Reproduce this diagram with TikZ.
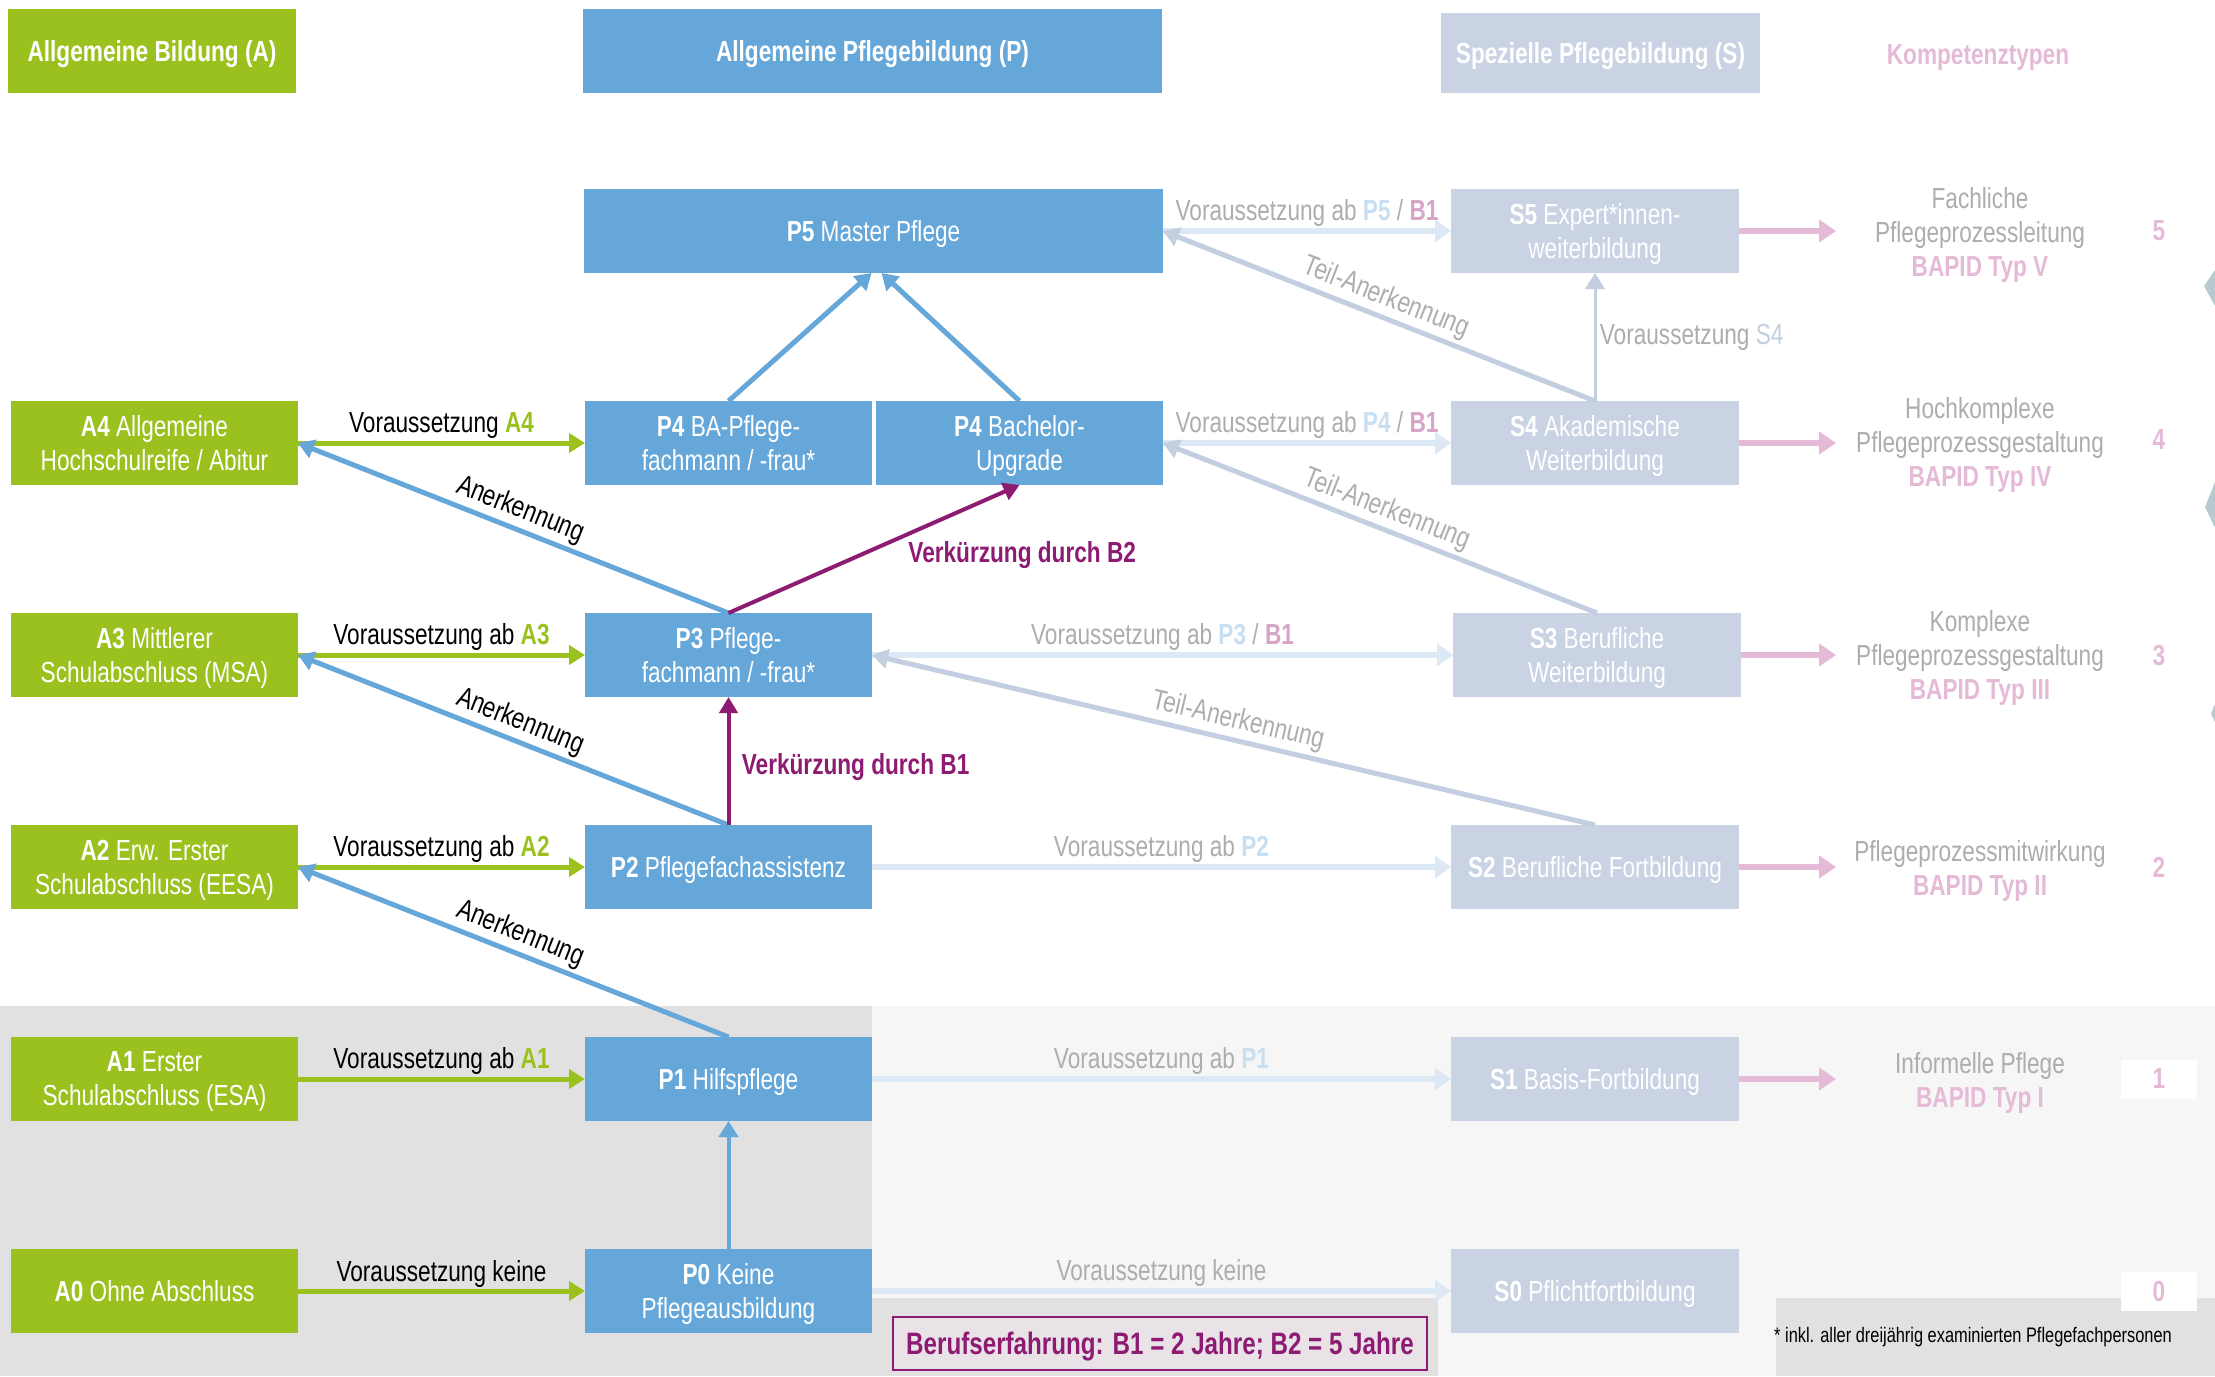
\documentclass[tikz,border=0pt]{standalone}
\usepackage{fontspec}
\setmainfont{Liberation Sans}[FakeStretch=0.78]
\usepackage{tikz}
\usetikzlibrary{arrows.meta}

\definecolor{agreen}{HTML}{9BC11F}
\definecolor{pblue}{HTML}{66A7DA}
\definecolor{sgrey}{HTML}{C9D3E3}
\definecolor{lblue}{HTML}{DCE9F5}
\definecolor{lbtext}{HTML}{C8DEF1}
\definecolor{tgrey}{HTML}{C3CEE1}
\definecolor{kpink}{HTML}{E5BAD7}
\definecolor{bpink}{HTML}{D7A5C7}
\definecolor{bpurple}{HTML}{8D1B72}
\definecolor{ltext}{HTML}{ADADAD}
\definecolor{bggrey}{HTML}{E1E1E1}
\definecolor{bglight}{HTML}{F6F6F6}
\definecolor{bfill}{HTML}{E9E3E8}
\definecolor{edgeteal}{HTML}{B7CACF}

\newcommand{\GA}[1]{\textcolor{agreen}{\textbf{#1}}}
\newcommand{\LP}[1]{\textcolor{lbtext}{\textbf{#1}}}
\newcommand{\PB}[1]{\textcolor{bpink}{\textbf{#1}}}

\tikzset{
  box/.style={minimum width=287pt, minimum height=84pt, inner sep=0pt, outer sep=0pt, align=center, text=white, text depth=0pt},
  abox/.style={box, fill=agreen},
  pbox/.style={box, fill=pblue},
  sbox/.style={box, fill=sgrey, minimum width=288pt},
  ktext/.style={align=center, text=ltext},
  lab/.style={above, inner sep=1.5pt},
  num/.style={fill=white, text=kpink, font=\fontsize{29}{34}\selectfont\bfseries, minimum width=76pt, minimum height=39pt, inner sep=0pt, text depth=0pt},
  garrow/.style={draw=agreen, line width=5pt, -{Triangle[length=16pt,width=19pt]}},
  barrow/.style={draw=pblue, line width=5pt, -{Triangle[length=16pt,width=19pt]}},
  varrow/.style={draw=bpurple, line width=4pt, -{Triangle[length=16pt,width=18pt]}},
  larrow/.style={draw=lblue, line width=6pt, -{Triangle[length=16pt,width=22pt]}},
  tarrow/.style={draw=tgrey, line width=5pt, -{Triangle[length=16pt,width=19pt]}},
  karrow/.style={draw=kpink, line width=6pt, -{Triangle[length=17pt,width=22pt]}}
}

\begin{document}
\begin{tikzpicture}[x=1pt, y=-1pt, font=\fontsize{29}{34}\selectfont]

  \newcommand\Dy{212}
  \newcommand\Yz{1291}
  \newcommand\Xa{154.5}
  \newcommand\Xp{728.5}
  \newcommand\Xs{1595}
  \newcommand\Xk{1980}
  \newcommand\Xn{2159}

  \useasboundingbox (0,0) rectangle (2215,1376);
  \fill[white] (0,0) rectangle (2215,1376);

  %% background
  \fill[bggrey] (0,1006) rectangle (872,1376);
  \fill[bglight] (872,1006) rectangle (2215,1298);
  \fill[bggrey] (872,1298) rectangle (1438,1376);
  \fill[bglight] (1438,1298) rectangle (1776,1376);
  \fill[bggrey] (1776,1298) rectangle (2215,1376);
  \fill[edgeteal] (2215,270) -- (2204,286) -- (2215,306) -- cycle;
  \fill[edgeteal] (2215,482) -- (2205,507) -- (2215,528) -- cycle;
  \fill[edgeteal] (2215,704) -- (2211,714) -- (2215,722) -- cycle;

  %% headers
  \node[abox, minimum width=288pt] (hA) at (152, 51) {\textbf{Allgemeine Bildung (A)}};
  \node[pbox, minimum width=579pt] (hP) at (872.5, 51) {\textbf{Allgemeine Pflegebildung (P)}};
  \node[sbox, minimum width=319pt, minimum height=80pt] (hS) at (1600.5, 53) {\textbf{Spezielle Pflegebildung (S)}};
  \node[text=kpink, text depth=0pt] (hK) at (1978, 55) {\textbf{Kompetenztypen}};

  %% column A
  \node[abox] (A4) at (\Xa, \Yz-4*\Dy) {\textbf{A4} Allgemeine\\Hochschulreife / Abitur};
  \node[abox] (A3) at (\Xa, \Yz-3*\Dy) {\textbf{A3} Mittlerer\\Schulabschluss (MSA)};
  \node[abox] (A2) at (\Xa, \Yz-2*\Dy) {\textbf{A2} Erw. Erster\\Schulabschluss (EESA)};
  \node[abox] (A1) at (\Xa, \Yz-1*\Dy) {\textbf{A1} Erster\\Schulabschluss (ESA)};
  \node[abox] (A0) at (\Xa, \Yz) {\textbf{A0} Ohne Abschluss};

  %% column P
  \node[pbox, minimum width=579pt] (P5) at (873.5, \Yz-5*\Dy) {\textbf{P5} Master Pflege};
  \node[pbox] (P4a) at (\Xp, \Yz-4*\Dy) {\textbf{P4} BA-Pflege-\\fachmann / -frau*};
  \node[pbox] (P4b) at (1019.5, \Yz-4*\Dy) {\textbf{P4} Bachelor-\\Upgrade};
  \node[pbox] (P3) at (\Xp, \Yz-3*\Dy) {\textbf{P3} Pflege-\\fachmann / -frau*};
  \node[pbox] (P2) at (\Xp, \Yz-2*\Dy) {\textbf{P2} Pflegefachassistenz};
  \node[pbox] (P1) at (\Xp, \Yz-1*\Dy) {\textbf{P1} Hilfspflege};
  \node[pbox] (P0) at (\Xp, \Yz) {\textbf{P0} Keine\\Pflegeausbildung};

  %% column S
  \node[sbox] (S5) at (\Xs, \Yz-5*\Dy) {\textbf{S5} Expert*innen-\\weiterbildung};
  \node[sbox] (S4) at (\Xs, \Yz-4*\Dy) {\textbf{S4} Akademische\\Weiterbildung};
  \node[sbox] (S3) at (1597, \Yz-3*\Dy) {\textbf{S3} Berufliche\\Weiterbildung};
  \node[sbox] (S2) at (\Xs, \Yz-2*\Dy) {\textbf{S2} Berufliche Fortbildung};
  \node[sbox] (S1) at (\Xs, \Yz-1*\Dy) {\textbf{S1} Basis-Fortbildung};
  \node[sbox] (S0) at (\Xs, \Yz) {\textbf{S0} Pflichtfortbildung};

  %% Kompetenztypen
  \node[ktext] (K5) at (\Xk, \Yz-5*\Dy+4) {Fachliche\\Pflegeprozessleitung\\\textcolor{kpink}{\textbf{BAPID Typ V}}};
  \node[ktext] (K4) at (\Xk, \Yz-4*\Dy+2) {Hochkomplexe\\Pflegeprozessgestaltung\\\textcolor{kpink}{\textbf{BAPID Typ IV}}};
  \node[ktext] (K3) at (\Xk, \Yz-3*\Dy+3) {Komplexe\\Pflegeprozessgestaltung\\\textcolor{kpink}{\textbf{BAPID Typ III}}};
  \node[ktext] (K2) at (\Xk, \Yz-2*\Dy+4) {Pflegeprozessmitwirkung\\\textcolor{kpink}{\textbf{BAPID Typ II}}};
  \node[ktext] (K1) at (\Xk, \Yz-1*\Dy+4) {Informelle Pflege\\\textcolor{kpink}{\textbf{BAPID Typ I}}};

  \node[num] (N5) at (\Xn, \Yz-5*\Dy) {5};
  \node[num] (N4) at (\Xn, \Yz-4*\Dy-3) {4};
  \node[num] (N3) at (\Xn, \Yz-3*\Dy) {3};
  \node[num] (N2) at (\Xn, \Yz-2*\Dy) {2};
  \node[num] (N1) at (\Xn, \Yz-1*\Dy) {1};
  \node[num] (N0) at (\Xn, \Yz) {0};

  \coordinate (e5) at (1836, \Yz-5*\Dy);
  \coordinate (e4) at (1836, \Yz-4*\Dy);
  \coordinate (e3) at (1836, \Yz-3*\Dy);
  \coordinate (e2) at (1836, \Yz-2*\Dy);
  \coordinate (e1) at (1836, \Yz-1*\Dy);

  %% A -> P
  \draw[garrow] (A4.east) -- node[lab]{Voraussetzung \GA{A4}} (P4a.west);
  \draw[garrow] (A3.east) -- node[lab]{Voraussetzung ab \GA{A3}} (P3.west);
  \draw[garrow] (A2.east) -- node[lab]{Voraussetzung ab \GA{A2}} (P2.west);
  \draw[garrow] (A1.east) -- node[lab]{Voraussetzung ab \GA{A1}} (P1.west);
  \draw[garrow] (A0.east) -- node[lab]{Voraussetzung keine} (P0.west);

  %% P -> A
  \draw[barrow] (P3.north) -- node[above, sloped]{Anerkennung} (A4.east);
  \draw[barrow] (P2.north) -- node[above, sloped]{Anerkennung} (A3.east);
  \draw[barrow] (P1.north) -- node[above, sloped]{Anerkennung} (A2.east);

  %% P -> P
  \draw[barrow] (P4a.north) -- ([xshift=-2pt]P5.south);
  \draw[barrow] (P4b.north) -- ([xshift=8pt]P5.south);
  \draw[barrow, line width=4pt] (P0.north) -- (P1.south);
  \draw[varrow] (P2.north) -- node[right, xshift=8pt, yshift=-6pt, text=bpurple]{\textbf{Verkürzung durch B1}} (P3.south);
  \draw[varrow] (P3.north) -- node[pos=0.6, anchor=north west, text=bpurple]{\textbf{Verkürzung durch B2}} (P4b.south);

  %% P -> S
  \draw[larrow] (P5.east) -- node[lab, text=ltext]{Voraussetzung ab \LP{P5} / \PB{B1}} (S5.west);
  \draw[larrow] (P4b.east) -- node[lab, text=ltext]{Voraussetzung ab \LP{P4} / \PB{B1}} (S4.west);
  \draw[larrow] (P3.east) -- node[lab, text=ltext]{Voraussetzung ab \LP{P3} / \PB{B1}} (S3.west);
  \draw[larrow] (P2.east) -- node[lab, text=ltext]{Voraussetzung ab \LP{P2}} (S2.west);
  \draw[larrow] (P1.east) -- node[lab, text=ltext]{Voraussetzung ab \LP{P1}} (S1.west);
  \draw[larrow] (P0.east) -- node[lab, text=ltext]{Voraussetzung keine} (S0.west);

  %% S -> P
  \draw[tarrow] (S4.north) -- node[above, sloped, text=ltext]{Teil-Anerkennung} (P5.east);
  \draw[tarrow] (S3.north) -- node[above, sloped, text=ltext]{Teil-Anerkennung} (P4b.east);
  \draw[tarrow] (S2.north) -- node[above, sloped, text=ltext]{Teil-Anerkennung} (P3.east);
  \draw[tarrow, line width=3pt] (S4.north) -- node[right, text=ltext]{Voraussetzung \textcolor{tgrey}{S4}} (S5.south);

  %% S -> K
  \draw[karrow] (S5.east) -- (e5);
  \draw[karrow] (S4.east) -- (e4);
  \draw[karrow] (S3.east) -- (e3);
  \draw[karrow] (S2.east) -- (e2);
  \draw[karrow] (S1.east) -- (e1);

  %% legend
  \node[draw=bpurple, line width=2.5pt, fill=bfill, text=bpurple, font=\fontsize{31}{36}\selectfont\bfseries,
        minimum width=534pt, minimum height=53pt, inner sep=0pt, text depth=0pt] (B) at (1160, 1343.5) {Berufserfahrung: B1 = 2 Jahre; B2 = 5 Jahre};
  \node[font=\fontsize{21}{25}\selectfont] (fn) at (1973, 1337) {* inkl. aller dreijährig examinierten Pflegefachpersonen};
\end{tikzpicture}
\end{document}
